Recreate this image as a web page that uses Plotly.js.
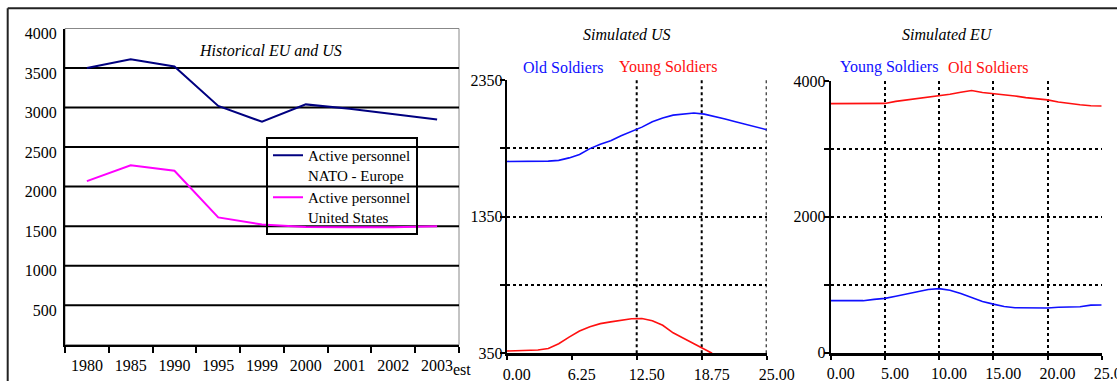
<!DOCTYPE html>
<html>
<head>
<meta charset="utf-8">
<script src="https://cdn.plot.ly/plotly-3.0.1.min.js"></script>
<style>
  html, body { margin: 0; padding: 0; background: #fff; }
  #chart { width: 1117px; height: 381px; }
</style>
</head>
<body>
<div id="chart"></div>
<script>
// ---- Historical active personnel (thousands) ----
const histYears = ['1980', '1985', '1990', '1995', '1999', '2000', '2001', '2002', '2003'];
const histEurope = [3500, 3610, 3520, 3020, 2820, 3040, 2985, 2920, 2850];
const histUS = [2070, 2270, 2200, 1610, 1520, 1490, 1485, 1485, 1500];
const histNames = ['Active personnel<br>NATO - Europe', 'Active personnel<br>United States'];
const histYTicks = [500, 1000, 1500, 2000, 2500, 3000, 3500, 4000];

// ---- Simulated US ----
const usTime = [0, 1, 2, 3, 4, 5, 6, 7, 8, 9, 10, 11, 12, 13, 14, 15, 16, 17, 18, 19, 20, 21, 22, 23, 24, 25];
const usOld = [1754, 1754, 1754, 1754, 1756, 1762, 1780, 1805, 1848, 1880, 1905, 1942, 1972, 2005, 2045, 2072,
               2093, 2100, 2108, 2100, 2085, 2065, 2045, 2025, 2005, 1986];
const usYoungTime = [0, 1, 2, 3, 4, 5, 6, 7, 8, 9, 10, 11, 12, 13, 14, 15, 16, 17, 18, 19, 19.75];
const usYoung = [367, 368, 372, 374, 385, 420, 468, 513, 545, 567, 580, 592, 603, 604, 588, 555,
                 500, 460, 420, 380, 350];
const usNames = ['Old Soldiers', 'Young Soldiers'];
const usYTicks = [350, 850, 1350, 1850, 2350];
const usYLabels = ['350', '', '1350', '', '2350'];
const usXTicks = [0, 6.25, 12.5, 18.75, 25];
const usXGrid = [12.5, 18.75, 25];

// ---- Simulated EU ----
const euTime = [0, 1, 2, 3, 4, 5, 6, 7, 8, 9, 10, 11, 12, 13, 14, 15, 16, 17, 18, 19, 20, 21, 22, 23, 24, 25];
const euYoung = [766, 766, 766, 766, 785, 800, 830, 862, 895, 930, 943, 920, 870, 815, 755, 715,
                 680, 662, 658, 658, 658, 670, 677, 677, 700, 702];
const euOld = [3667, 3667, 3667, 3667, 3667, 3670, 3700, 3720, 3735, 3762, 3785, 3805, 3835, 3860, 3830, 3815,
               3795, 3780, 3755, 3740, 3722, 3690, 3665, 3650, 3635, 3633];
const euNames = ['Young Soldiers', 'Old Soldiers'];
const euYTicks = [0, 1000, 2000, 3000, 4000];
const euYLabels = ['0', '', '2000', '', '4000'];
const euXTicks = [0, 5, 10, 15, 20, 25];

const titles = ['Historical EU and US', 'Simulated US', 'Simulated EU'];

// ---- page geometry helpers (pixels -> paper fractions) ----
const W = 1117, H = 381;
const px = x => x / W;
const py = y => 1 - y / H;

const SERIF = '"Liberation Serif", "Times New Roman", serif';
const BLUE = '#1010ff', RED = '#ff1010';
const font = (extra) => Object.assign({ family: SERIF, size: 16, color: '#000' }, extra || {});

const dotGrid = { showgrid: true, gridcolor: '#000', gridwidth: 2, griddash: '3px,3px' };

const traces = [
  { x: histYears, y: histEurope, name: histNames[0], xaxis: 'x', yaxis: 'y', mode: 'lines',
    line: { color: '#000080', width: 2 } },
  { x: histYears, y: histUS, name: histNames[1], xaxis: 'x', yaxis: 'y', mode: 'lines',
    line: { color: '#ff00ff', width: 2 } },

  { x: usTime, y: usOld, name: usNames[0], xaxis: 'x2', yaxis: 'y2', mode: 'lines',
    line: { color: BLUE, width: 1.6 }, showlegend: false },
  { x: usYoungTime, y: usYoung, name: usNames[1], xaxis: 'x2', yaxis: 'y2', mode: 'lines',
    line: { color: RED, width: 1.6 }, showlegend: false },

  { x: euTime, y: euYoung, name: euNames[0], xaxis: 'x3', yaxis: 'y3', mode: 'lines',
    line: { color: BLUE, width: 1.6 }, showlegend: false },
  { x: euTime, y: euOld, name: euNames[1], xaxis: 'x3', yaxis: 'y3', mode: 'lines',
    line: { color: RED, width: 1.6 }, showlegend: false }
];

// horizontal rules of the historical panel (none on the top edge)
const histGrid = histYTicks.slice(0, -1).map(v => ({
  type: 'line', xref: 'x domain', yref: 'y', x0: 0, x1: 1, y0: v, y1: v,
  line: { color: '#000', width: 2 }, layer: 'below'
}));
// vertical dotted rules of the simulated US panel
const usGrid = usXGrid.map(v => ({
  type: 'line', xref: 'x2', yref: 'y2 domain', x0: v, x1: v, y0: 0, y1: 1,
  line: { color: '#000', width: 2, dash: '3px,3px' }, layer: 'below'
}));

function label(text, x, y, extra) {
  return Object.assign({ text: text, xref: 'paper', yref: 'paper', x: px(x), y: py(y),
    xanchor: 'center', yanchor: 'middle', showarrow: false, font: font() }, extra || {});
}

const layout = {
  width: W, height: H,
  margin: { l: 0, r: 0, t: 0, b: 0 },
  paper_bgcolor: '#fff', plot_bgcolor: 'rgba(0,0,0,0)',
  font: font(),
  showlegend: true,

  // historical panel
  xaxis: {
    domain: [px(65), px(459)], anchor: 'y', type: 'category', range: [-0.5, 8.5],
    tickson: 'boundaries', ticks: 'outside', ticklen: 6, tickwidth: 2, tickcolor: '#000',
    showline: true, linecolor: '#000', linewidth: 2, showgrid: false, zeroline: false,
    tickfont: font(), ticklabelstandoff: 5, fixedrange: true
  },
  yaxis: {
    domain: [py(344.7), py(28.5)], anchor: 'x', range: [0, 4000],
    tickmode: 'array', tickvals: histYTicks, ticks: '', showgrid: false,
    showline: true, linecolor: '#000', linewidth: 2, zeroline: false,
    tickfont: font(), ticklabelshift: 5, ticklabelstandoff: 3, fixedrange: true
  },

  // simulated US panel
  xaxis2: {
    domain: [px(506.7), px(766.7)], anchor: 'y2', range: [0, 25],
    tickmode: 'array', tickvals: usXTicks, ticktext: usXTicks.map(v => v.toFixed(2)),
    ticks: 'outside', ticklen: 4, tickwidth: 2, tickcolor: '#000', showgrid: false,
    showline: true, linecolor: '#000', linewidth: 3, zeroline: false,
    tickfont: font(), ticklabelshift: 10, ticklabeloverflow: 'allow', fixedrange: true
  },
  yaxis2: Object.assign({
    domain: [py(353.3), py(80)], anchor: 'x2', range: [350, 2350],
    tickmode: 'array', tickvals: usYTicks, ticktext: usYLabels,
    ticks: 'outside', ticklen: 5, tickwidth: 2, tickcolor: '#000',
    showline: true, linecolor: '#000', linewidth: 2, zeroline: false,
    tickfont: font(), ticklabelstandoff: -6, fixedrange: true
  }, dotGrid),

  // simulated EU panel
  xaxis3: Object.assign({
    domain: [px(830.7), px(1101.7)], anchor: 'y3', range: [0, 25],
    tickmode: 'array', tickvals: euXTicks, ticktext: euXTicks.map(v => v.toFixed(2)),
    ticks: 'outside', ticklen: 4, tickwidth: 2, tickcolor: '#000',
    showline: true, linecolor: '#000', linewidth: 3, zeroline: false,
    tickfont: font(), ticklabelshift: 10, ticklabeloverflow: 'allow', fixedrange: true
  }, dotGrid),
  yaxis3: Object.assign({
    domain: [py(352.7), py(81)], anchor: 'x3', range: [0, 4000],
    tickmode: 'array', tickvals: euYTicks, ticktext: euYLabels,
    ticks: 'outside', ticklen: 5, tickwidth: 2, tickcolor: '#000',
    showline: true, linecolor: '#000', linewidth: 2, zeroline: false,
    tickfont: font(), ticklabelstandoff: -5, fixedrange: true
  }, dotGrid),

  legend: {
    x: px(266), y: py(137), xanchor: 'left', yanchor: 'top',
    bgcolor: 'rgba(0,0,0,0)', bordercolor: '#000', borderwidth: 2,
    font: font({ size: 15 }), valign: 'top', tracegroupgap: 0, itemwidth: 30
  },

  shapes: [
    // thin frame around the historical plot area
    { type: 'rect', xref: 'x domain', yref: 'y domain', x0: 0, x1: 1, y0: 0, y1: 1,
      line: { color: '#888', width: 1 }, layer: 'below' },
    // outer border of the figure block
    { type: 'line', xref: 'paper', yref: 'paper', x0: px(7.7), x1: px(7.7), y0: py(8.3), y1: 0,
      line: { color: '#222', width: 2 } },
    { type: 'line', xref: 'paper', yref: 'paper', x0: px(7.7), x1: 1, y0: py(8.3), y1: py(8.3),
      line: { color: '#222', width: 2 } }
  ].concat(histGrid, usGrid),

  annotations: [
    label(titles[0], 270.5, 51, { font: font({ style: 'italic' }) }),
    label(titles[1], 627, 35, { font: font({ style: 'italic' }) }),
    label(titles[2], 948, 35, { font: font({ style: 'italic' }) }),

    label(usNames[0], 563, 67, { font: font({ color: BLUE }) }),
    label(usNames[1], 667.5, 67, { font: font({ color: RED }) }),
    label(euNames[0], 889, 67, { font: font({ color: BLUE }) }),
    label(euNames[1], 988, 67, { font: font({ color: RED }) }),

    // estimate marker beside the last year
    { text: 'est', xref: 'x', yref: 'paper', x: histYears.length - 1, xshift: 25, y: py(369),
      xanchor: 'center', yanchor: 'middle', showarrow: false, font: font() }
  ]
};

Plotly.newPlot('chart', traces, layout, { staticPlot: true, displayModeBar: false });
</script>
</body>
</html>
